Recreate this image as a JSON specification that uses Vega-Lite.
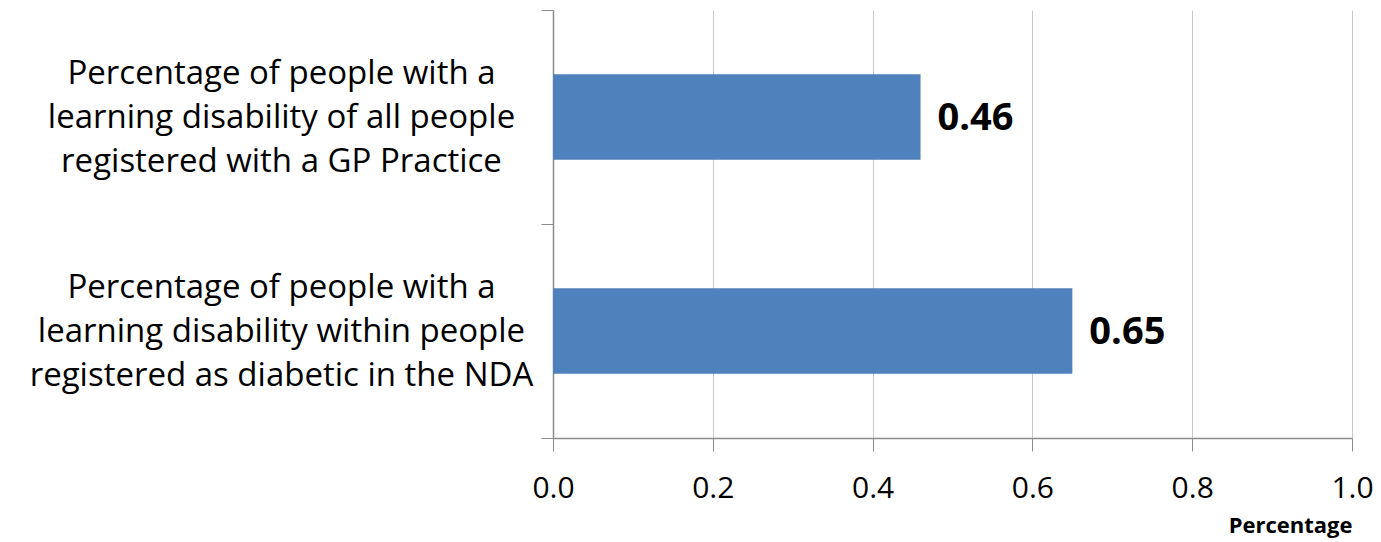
{
  "$schema": "https://vega.github.io/schema/vega-lite/v6.json",
  "width": 799,
  "height": 428,
  "autosize": {"type": "none"},
  "padding": {"left": 553, "top": 10, "right": 29, "bottom": 104},
  "background": "white",
  "config": {
    "view": {"stroke": null},
    "font": "Open Sans"
  },
  "data": {
    "values": [
      {"measure": "Percentage of people with a|learning disability of all people|registered with a GP Practice", "value": 0.46},
      {"measure": "Percentage of people with a|learning disability within people|registered as diabetic in the NDA", "value": 0.65}
    ]
  },
  "encoding": {
    "y": {
      "field": "measure",
      "type": "nominal",
      "sort": null,
      "scale": {"paddingInner": 0, "paddingOuter": 0},
      "axis": {
        "title": null,
        "labelExpr": "split(datum.label, '|')",
        "labelAlign": "center",
        "labelBaseline": "middle",
        "labelFontSize": 33,
        "labelLineHeight": 44,
        "labelOffset": -44,
        "labelColor": "#000000",
        "labelLimit": 600,
        "labelPadding": 260,
        "tickSize": 12,
        "tickBand": "extent",
        "tickColor": "#8C8C8C",
        "domainColor": "#8C8C8C",
        "domainWidth": 1.5,
        "grid": false
      }
    },
    "x": {
      "field": "value",
      "type": "quantitative",
      "scale": {"domain": [0, 1], "nice": false},
      "axis": {
        "title": "Percentage",
        "titleAnchor": "end",
        "titleFontSize": 22,
        "titleFontWeight": "bold",
        "titleColor": "#000000",
        "titlePadding": 12,
        "values": [0, 0.2, 0.4, 0.6, 0.8, 1.0],
        "format": ".1f",
        "labelFontSize": 30,
        "labelColor": "#000000",
        "labelPadding": 22,
        "labelFlush": false,
        "tickSize": 13,
        "tickColor": "#8C8C8C",
        "domainColor": "#8C8C8C",
        "domainWidth": 1.5,
        "grid": true,
        "gridColor": "#C8C8C8",
        "gridWidth": 1
      }
    }
  },
  "layer": [
    {
      "mark": {"type": "bar", "color": "#4F81BD", "height": {"band": 0.4}}
    },
    {
      "mark": {"type": "text", "align": "left", "baseline": "middle", "dx": 17, "dy": 2, "fontSize": 38, "fontWeight": "bold", "color": "#000000"},
      "encoding": {"text": {"field": "value", "type": "quantitative", "format": ".2f"}}
    }
  ]
}
